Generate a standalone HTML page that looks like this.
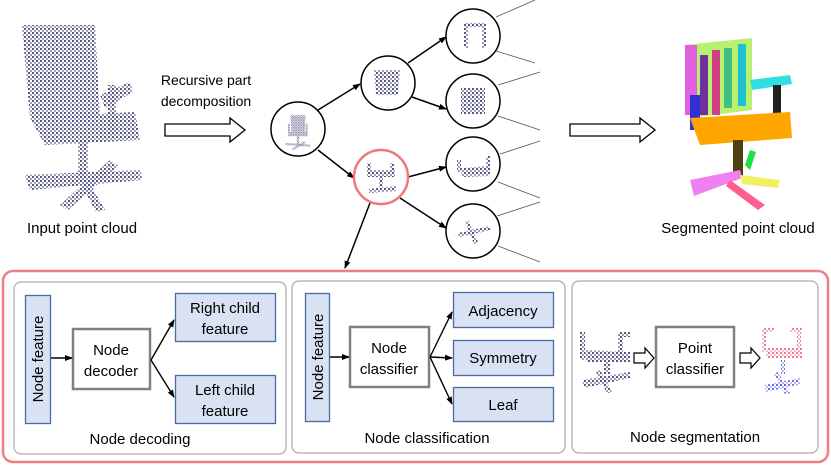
<!DOCTYPE html>
<html><head><meta charset="utf-8"><style>
body{margin:0;background:#fff;width:831px;height:467px;overflow:hidden;font-family:"Liberation Sans",Calibri,sans-serif}
</style></head><body>
<svg width="831" height="467" viewBox="0 0 831 467" xmlns="http://www.w3.org/2000/svg" font-family="Liberation Sans, sans-serif">
<defs>
<pattern id="dots" width="4" height="4" patternUnits="userSpaceOnUse"><circle cx="1" cy="1" r="1.1" fill="#4b4b7d"/><circle cx="3" cy="3" r="0.9" fill="#5a5a88"/></pattern>
<pattern id="dotsR" width="4" height="4" patternUnits="userSpaceOnUse"><circle cx="1" cy="1" r="1" fill="#f0507a"/><circle cx="3" cy="3" r="0.8" fill="#f07090"/></pattern>
<pattern id="dotsB" width="4" height="4" patternUnits="userSpaceOnUse"><circle cx="1" cy="1" r="1" fill="#4040e0"/><circle cx="3" cy="3" r="0.8" fill="#7070f0"/></pattern>
<marker id="ah" markerWidth="8" markerHeight="8" refX="7" refY="4" orient="auto" markerUnits="userSpaceOnUse"><path d="M0,1 L8,4 L0,7 z" fill="#000"/></marker>
<g id="chair">
<path d="M-18,-40 L18,-40 L16,0 L-16,0 z"/>
<path d="M-22,0 L22,0 L24,10 L-24,10 z"/>
<rect x="18" y="-20" width="5" height="22"/><rect x="-24" y="-20" width="5" height="22"/>
<rect x="-3" y="10" width="6" height="18"/>
<path d="M-30,26 L30,30 L28,35 L-30,31 z"/><path d="M-15,40 L15,22 L18,26 L-12,44 z"/>
</g>
</defs>

<!-- input chair -->
<g fill="url(#dots)">
<path d="M22,25 L95,25 L100,118 L30,118 z"/>
<path d="M100,95 L130,82 L133,92 L105,108 z"/>
<rect x="108" y="85" width="8" height="50"/>
<path d="M30,118 L135,112 L140,140 L45,145 z"/>
<rect x="78" y="140" width="10" height="35"/>
<path d="M25,175 L140,170 L142,180 L30,190 z"/>
<path d="M60,205 L110,160 L118,166 L68,210 z"/>
<path d="M82,170 L105,210 L96,212 L76,175 z"/>
</g>
<text x="82" y="233" font-size="15" text-anchor="middle">Input point cloud</text>

<text x="206" y="85" font-size="14" text-anchor="middle">Recursive part</text>
<text x="206" y="106" font-size="14" text-anchor="middle">decomposition</text>
<path d="M165,124 L230,124 L230,118 L245,130 L230,142 L230,136 L165,136 z" fill="#fff" stroke="#000" stroke-width="1.3"/>
<path d="M570,124 L640,124 L640,118 L655,130 L640,142 L640,136 L570,136 z" fill="#fff" stroke="#000" stroke-width="1.3"/>

<!-- tree lines to right -->
<g stroke="#555" stroke-width="0.8">
<line x1="496" y1="17" x2="535" y2="0"/><line x1="496" y1="51" x2="535" y2="63"/>
<line x1="498" y1="85" x2="540" y2="72"/><line x1="498" y1="116" x2="540" y2="130"/>
<line x1="500" y1="154" x2="540" y2="141"/><line x1="498" y1="182" x2="540" y2="198"/>
<line x1="497" y1="216" x2="540" y2="202"/><line x1="498" y1="246" x2="540" y2="262"/>
</g>
<!-- tree arrows -->
<g stroke="#000" stroke-width="1.5" marker-end="url(#ah)">
<line x1="318" y1="110" x2="360" y2="84"/>
<line x1="318" y1="150" x2="354" y2="178"/>
<line x1="408" y1="63" x2="446" y2="37"/>
<line x1="412" y1="97" x2="446" y2="109"/>
<line x1="408" y1="177" x2="446" y2="167"/>
<line x1="400" y1="198" x2="446" y2="228"/>
<line x1="370" y1="203" x2="345" y2="268"/>
</g>
<g fill="#fff" stroke="#000" stroke-width="1.5">
<circle cx="298" cy="129" r="27"/><circle cx="388" cy="83" r="27"/>
<circle cx="473" cy="36" r="27"/><circle cx="473" cy="101" r="27"/>
<circle cx="473" cy="164" r="27"/><circle cx="473" cy="231" r="27"/>
</g>
<circle cx="381" cy="177" r="27" fill="#fff" stroke="#f07878" stroke-width="2.5"/>
<g fill="url(#dots)">
<use href="#chair" transform="translate(298,132) scale(0.42)"/>
<path d="M374,70 L400,70 L398,95 L376,95 z"/>
<path d="M464,23 L486,23 L486,48 L482,48 L482,27 L468,27 L468,48 L464,48 z"/>
<rect x="461" y="88" width="24" height="26"/>
<path d="M367,170 L395,170 L395,177 L367,177 z"/><rect x="367" y="163" width="4" height="10"/><rect x="390" y="163" width="4" height="10"/><rect x="379" y="177" width="4" height="10"/><path d="M369,189 L396,186 L396,191 L369,193 z"/>
<path d="M461,168 L490,166 L490,176 L462,177 z"/><rect x="457" y="160" width="4" height="12"/><rect x="486" y="156" width="4" height="14"/>
<path d="M458,233 L490,226 L491,230 L459,237 z"/><path d="M468,220 L478,242 L474,244 L465,222 z"/>
</g>

<!-- segmented chair -->
<path d="M685,45 L752,38 L752,110 L690,118 z" fill="#b8f070"/>
<rect x="700" y="55" width="8" height="60" fill="#7030a0"/><rect x="712" y="50" width="8" height="65" fill="#d04080"/>
<rect x="724" y="48" width="8" height="60" fill="#40c080"/><rect x="738" y="44" width="8" height="62" fill="#20c0d0"/>
<rect x="685" y="45" width="12" height="70" fill="#e060e0"/>
<path d="M750,80 L790,75 L792,84 L752,90 z" fill="#30e0e0"/>
<rect x="773" y="85" width="8" height="40" fill="#222"/>
<rect x="690" y="95" width="10" height="35" fill="#3030d0"/>
<path d="M690,118 L790,112 L792,138 L700,145 z" fill="#ffa500"/>
<rect x="733" y="140" width="10" height="38" fill="#504010"/>
<path d="M690,180 L740,170 L742,178 L694,196 z" fill="#f080f0"/>
<path d="M740,175 L780,180 L778,188 L742,184 z" fill="#f0f060"/>
<path d="M730,180 L765,205 L758,210 L726,186 z" fill="#ff6090"/>
<path d="M745,165 L750,150 L756,152 L750,170 z" fill="#20e040"/>
<text x="738" y="233" font-size="15" text-anchor="middle">Segmented point cloud</text>

<!-- bottom -->
<rect x="3" y="271" width="825" height="191" rx="10" fill="none" stroke="#f08080" stroke-width="2.5"/>
<g fill="#fff" stroke="#aaa" stroke-width="1.2">
<rect x="14" y="282" width="272" height="172" rx="7"/>
<rect x="292" y="281" width="273" height="172" rx="7"/>
<rect x="572" y="281" width="246" height="172" rx="7"/>
</g>
<g fill="#d9e2f3" stroke="#4a6aa5" stroke-width="1.3">
<rect x="25.5" y="295.5" width="25" height="128"/>
<rect x="175.5" y="293.5" width="100" height="48"/>
<rect x="175.5" y="375.5" width="100" height="48"/>
<rect x="305.5" y="293.5" width="24" height="128"/>
<rect x="453.5" y="292.5" width="100" height="35"/>
<rect x="453.5" y="340.5" width="100" height="35"/>
<rect x="453.5" y="387.5" width="100" height="34"/>
</g>
<g fill="#fff" stroke="#808080" stroke-width="2.5">
<rect x="73" y="329" width="77" height="60"/>
<rect x="350" y="327" width="79" height="60"/>
<rect x="656" y="327" width="78" height="60"/>
</g>
<g stroke="#000" stroke-width="1.4" marker-end="url(#ah)">
<line x1="51" y1="358" x2="72" y2="358"/>
<line x1="151" y1="360" x2="174" y2="320"/>
<line x1="151" y1="360" x2="174" y2="397"/>
<line x1="330" y1="357" x2="349" y2="357"/>
<line x1="430" y1="357" x2="452" y2="312"/>
<line x1="430" y1="357" x2="452" y2="358"/>
<line x1="430" y1="357" x2="452" y2="404"/>
</g>
<path d="M634,353 L645,353 L645,348 L654,358 L645,368 L645,363 L634,363 z" fill="#fff" stroke="#000" stroke-width="1.2"/>
<path d="M740,353 L751,353 L751,348 L760,358 L751,368 L751,363 L740,363 z" fill="#fff" stroke="#000" stroke-width="1.2"/>
<g fill="url(#dots)">
<rect x="580" y="332" width="5" height="28"/><rect x="618" y="335" width="5" height="25"/><rect x="618" y="332" width="12" height="5"/>
<path d="M585,350 L630,352 L630,362 L586,362 z"/><rect x="604" y="362" width="6" height="12"/>
<path d="M582,380 L630,372 L630,378 L584,388 z"/><path d="M600,370 L612,392 L607,393 L596,372 z"/>
</g>
<g fill="url(#dotsR)">
<rect x="762" y="330" width="4" height="22"/><rect x="797" y="330" width="4" height="22"/><rect x="762" y="328" width="12" height="4"/><rect x="790" y="328" width="12" height="4"/>
<path d="M766,348 L802,348 L802,358 L766,358 z"/>
</g>
<g fill="url(#dotsB)">
<path d="M765,385 L800,378 L800,384 L766,392 z"/><path d="M778,372 L790,393 L785,394 L774,374 z"/><rect x="781" y="360" width="4" height="14"/>
</g>

<g font-size="15" text-anchor="middle" fill="#000">
<text transform="translate(43,359) rotate(-90)" text-anchor="middle">Node feature</text>
<text transform="translate(323,357) rotate(-90)" text-anchor="middle">Node feature</text>
<text x="111" y="355">Node</text><text x="111" y="376">decoder</text>
<text x="225" y="313">Right child</text><text x="225" y="334">feature</text>
<text x="225" y="395">Left child</text><text x="225" y="416">feature</text>
<text x="389" y="353">Node</text><text x="389" y="374">classifier</text>
<text x="503" y="316">Adjacency</text><text x="503" y="363">Symmetry</text><text x="503" y="410">Leaf</text>
<text x="695" y="353">Point</text><text x="695" y="374">classifier</text>
<text x="140" y="444">Node decoding</text>
<text x="427" y="443">Node classification</text>
<text x="695" y="442">Node segmentation</text>
</g>
</svg>
</body></html>
